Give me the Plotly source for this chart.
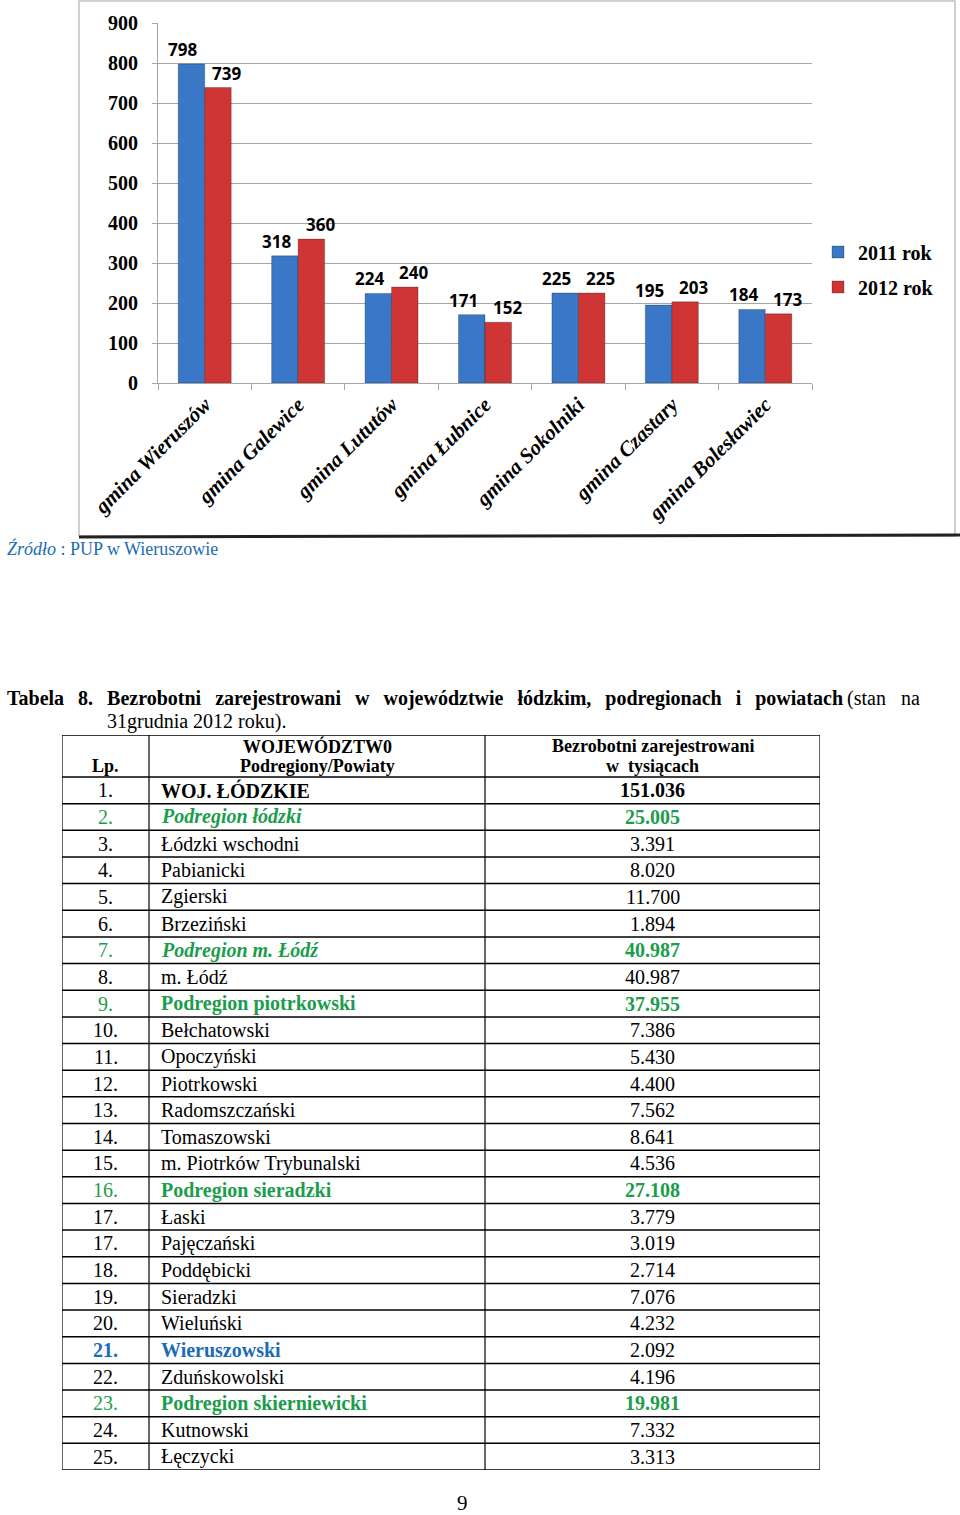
import plotly.graph_objects as go

# ---------------- data ----------------
GMINY = ["gmina Wieruszów", "gmina Galewice", "gmina Lututów", "gmina Łubnice",
         "gmina Sokolniki", "gmina Czastary", "gmina Bolesławiec"]
Y2011 = [798, 318, 224, 171, 225, 195, 184]
Y2012 = [739, 360, 240, 152, 225, 203, 173]
SERIES = ["2011 rok", "2012 rok"]
Y_TICKS = [0, 100, 200, 300, 400, 500, 600, 700, 800, 900]

LP = ["1.", "2.", "3.", "4.", "5.", "6.", "7.", "8.", "9.", "10.", "11.", "12.", "13.",
      "14.", "15.", "16.", "17.", "17.", "18.", "19.", "20.", "21.", "22.", "23.", "24.", "25."]
NAMES = ["WOJ. ŁÓDZKIE", "Podregion łódzki", "Łódzki wschodni", "Pabianicki", "Zgierski",
         "Brzeziński", "Podregion m. Łódź", "m. Łódź", "Podregion piotrkowski", "Bełchatowski",
         "Opoczyński", "Piotrkowski", "Radomszczański", "Tomaszowski", "m. Piotrków Trybunalski",
         "Podregion sieradzki", "Łaski", "Pajęczański", "Poddębicki", "Sieradzki", "Wieluński",
         "Wieruszowski", "Zduńskowolski", "Podregion skierniewicki", "Kutnowski", "Łęczycki"]
VALUES = ["151.036", "25.005", "3.391", "8.020", "11.700", "1.894", "40.987", "40.987",
          "37.955", "7.386", "5.430", "4.400", "7.562", "8.641", "4.536", "27.108", "3.779",
          "3.019", "2.714", "7.076", "4.232", "2.092", "4.196", "19.981", "7.332", "3.313"]
KIND = ["woj", "sub_i", "p", "p", "p", "p", "sub_i", "p", "sub", "p", "p", "p", "p", "p", "p",
        "sub", "p", "p", "p", "p", "p", "own", "p", "sub", "p", "p"]
HEAD_LP = "Lp."
HEAD_NAME = ["WOJEWÓDZTW0", "Podregiony/Powiaty"]
HEAD_VAL = ["Bezrobotni zarejestrowani", "w  tysiącach"]

# ---------------- styles ----------------
W, H = 960, 1515
SERIF = "Liberation Serif"
BLUE_BAR = "#3a77c6"
RED_BAR = "#cf3535"
GRID = "#a6a6a6"
GREEN = "#1c9d4c"
BLUE_TXT = "#1a6db3"
COL_EDGES = [0, 87, 423, 758]      # table column boundaries (px units on x2)
HEADER_H = 42 / 26.65              # header height in row units


def py(pix):
    return 1 - pix / H


def px(pix):
    return pix / W


fig = go.Figure()
annotations = []
shapes = []

for name, vals, col, grp, shift in [(SERIES[0], Y2011, BLUE_BAR, "a", -22),
                                     (SERIES[1], Y2012, RED_BAR, "b", 22)]:
    fig.add_trace(go.Bar(
        x=GMINY, y=vals, name=name, legendgroup=grp,
        marker=dict(color=col, line=dict(color="rgba(0,0,0,0.25)", width=1)),
    ))
    for g, v in zip(GMINY, vals):
        annotations.append(dict(xref="x", yref="y", x=g, y=v, xshift=shift, yshift=1,
                                xanchor="center", yanchor="bottom", showarrow=False, text=str(v),
                                font=dict(family="Open Sans", size=17, color="black", weight="bold")))

# helper (invisible) trace for table axes
fig.add_trace(go.Scatter(x=[COL_EDGES[0], COL_EDGES[-1]], y=[0, len(LP)], xaxis="x2", yaxis="y2",
                         mode="markers", marker=dict(opacity=0), showlegend=False, hoverinfo="skip"))

# table cells
for i, (lp, nm, val, kind) in enumerate(zip(LP, NAMES, VALUES, KIND)):
    yc = i + 0.5
    lp_txt, nm_txt, val_txt = lp, nm, val
    lp_col = nm_col = val_col = "black"
    if kind == "woj":
        nm_txt, val_txt = f"<b>{nm}</b>", f"<b>{val}</b>"
    elif kind == "sub_i":
        nm_txt, val_txt = f"<b><i>{nm}</i></b>", f"<b>{val}</b>"
        lp_col = nm_col = val_col = GREEN
    elif kind == "sub":
        nm_txt, val_txt = f"<b>{nm}</b>", f"<b>{val}</b>"
        lp_col = nm_col = val_col = GREEN
    elif kind == "own":
        lp_txt, nm_txt = f"<b>{lp}</b>", f"<b>{nm}</b>"
        lp_col = nm_col = BLUE_TXT
    base = dict(xref="x2", yref="y2", y=yc, yanchor="middle", showarrow=False)
    annotations.append(dict(base, x=(COL_EDGES[0] + COL_EDGES[1]) / 2, text=lp_txt, xanchor="center",
                            font=dict(family=SERIF, size=20, color=lp_col)))
    annotations.append(dict(base, x=COL_EDGES[1] + 10, text=nm_txt, xanchor="left",
                            font=dict(family=SERIF, size=20, color=nm_col)))
    annotations.append(dict(base, x=(COL_EDGES[2] + COL_EDGES[3]) / 2, text=val_txt, xanchor="center",
                            font=dict(family=SERIF, size=20, color=val_col)))

# header
hdr = dict(xref="x2", yref="y2", showarrow=False, font=dict(family=SERIF, size=18, color="black"))
annotations.append(dict(hdr, x=(COL_EDGES[0] + COL_EDGES[1]) / 2, y=-HEADER_H * 0.27, text=f"<b>{HEAD_LP}</b>"))
annotations.append(dict(hdr, x=(COL_EDGES[1] + COL_EDGES[2]) / 2, y=-HEADER_H * 0.73, text=f"<b>{HEAD_NAME[0]}</b>"))
annotations.append(dict(hdr, x=(COL_EDGES[1] + COL_EDGES[2]) / 2, y=-HEADER_H * 0.27, text=f"<b>{HEAD_NAME[1]}</b>"))
annotations.append(dict(hdr, x=(COL_EDGES[2] + COL_EDGES[3]) / 2, y=-HEADER_H * 0.73, text=f"<b>{HEAD_VAL[0]}</b>"))
annotations.append(dict(hdr, x=(COL_EDGES[2] + COL_EDGES[3]) / 2, y=-HEADER_H * 0.27, text=f"<b>{HEAD_VAL[1]}</b>"))

# table lines
for r in [-HEADER_H] + list(range(0, len(LP) + 1)):
    shapes.append(dict(type="line", xref="x2", yref="y2", x0=COL_EDGES[0], x1=COL_EDGES[-1], y0=r, y1=r,
                       line=dict(color="black", width=1.5)))
for c in COL_EDGES:
    shapes.append(dict(type="line", xref="x2", yref="y2", x0=c, x1=c, y0=-HEADER_H, y1=len(LP),
                       line=dict(color="black", width=1.2)))

# chart frame
shapes.append(dict(type="rect", xref="paper", yref="paper", x0=px(79), x1=px(955), y0=py(536), y1=py(1),
                   line=dict(color="#c0c0c0", width=1.5)))
shapes.append(dict(type="line", xref="paper", yref="paper", x0=px(79), x1=px(960), y0=py(537), y1=py(535),
                   line=dict(color="#222222", width=3)))

# page texts
annotations.append(dict(xref="paper", yref="paper", x=px(5), y=py(548), xanchor="left", yanchor="middle",
                        showarrow=False, text="<i>Źródło</i> : PUP w Wieruszowie",
                        font=dict(family=SERIF, size=18, color=BLUE_TXT)))
cap_words = ["Tabela", "8.", "Bezrobotni", "zarejestrowani", "w", "województwie", "łódzkim,",
             "podregionach", "i", "powiatach"]
annotations.append(dict(xref="paper", yref="paper", x=px(5), y=py(698), xanchor="left", yanchor="middle",
                        showarrow=False, text="<b>" + "\u00a0\u00a0\u2009".join(cap_words) + "</b>",
                        font=dict(family=SERIF, size=20, color="black")))
annotations.append(dict(xref="paper", yref="paper", x=px(922), y=py(698), xanchor="right", yanchor="middle",
                        showarrow=False, text="(stan\u00a0\u00a0\u00a0na",
                        font=dict(family=SERIF, size=20, color="black")))
annotations.append(dict(xref="paper", yref="paper", x=px(105), y=py(721), xanchor="left", yanchor="middle",
                        showarrow=False, text="31grudnia 2012 roku).",
                        font=dict(family=SERIF, size=20, color="black")))
annotations.append(dict(xref="paper", yref="paper", x=px(462), y=py(1503), xanchor="center", yanchor="middle",
                        showarrow=False, text="9", font=dict(family=SERIF, size=21, color="black")))

fig.update_layout(
    width=W, height=H, margin=dict(l=0, r=0, t=0, b=0, autoexpand=False),
    paper_bgcolor="white", plot_bgcolor="white",
    barmode="group", bargap=0.433, bargroupgap=0,
    xaxis=dict(domain=[px(158), px(812)], anchor="y", showline=True, linecolor=GRID, linewidth=1,
               ticks="outside", tickson="boundaries", ticklen=6, tickcolor=GRID, tickangle=-45,
               tickfont=dict(family=SERIF, size=21, color="black", weight="bold", style="italic"),
               showgrid=False, fixedrange=True, automargin=False),
    yaxis=dict(domain=[py(383), py(23)], anchor="x", range=[0, 900.5], tickvals=Y_TICKS,
               showgrid=True, gridcolor=GRID, gridwidth=1, zeroline=False,
               showline=True, linecolor=GRID, ticks="outside", ticklen=5, tickcolor=GRID,
               ticklabelstandoff=10, automargin=False,
               tickfont=dict(family=SERIF, size=20, color="black", weight="bold"), fixedrange=True),
    xaxis2=dict(domain=[px(62), px(820)], anchor="y2", range=[COL_EDGES[0], COL_EDGES[-1]],
                visible=False, fixedrange=True, automargin=False),
    yaxis2=dict(domain=[py(1470), py(735)], anchor="x2", range=[len(LP), -HEADER_H],
                visible=False, fixedrange=True, automargin=False),
    legend=dict(x=px(818), xanchor="left", y=py(269.5), yanchor="middle", traceorder="grouped",
                tracegroupgap=6, bgcolor="rgba(0,0,0,0)",
                font=dict(family=SERIF, size=20, color="black", weight="bold")),
    annotations=annotations, shapes=shapes, showlegend=True,
)

fig.write_html("out.html")
